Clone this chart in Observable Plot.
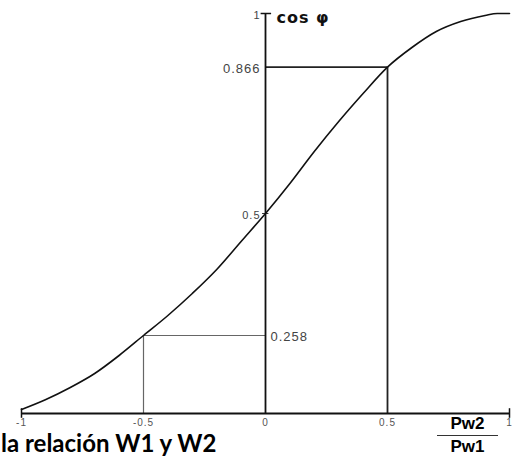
<!DOCTYPE html>
<html>
<head>
<meta charset="utf-8">
<script src="https://cdn.jsdelivr.net/npm/d3@7"></script>
<script src="https://cdn.jsdelivr.net/npm/@observablehq/plot@0.6"></script>
<style>
  html, body { margin: 0; padding: 0; background: #fff; }
  #wrap { position: relative; width: 514px; height: 457px; overflow: hidden; }
  #wrap svg { position: absolute; left: 0; top: 0; }
  .wide text { letter-spacing: 1px; }
  #caption { position: absolute; left: 0; top: 428px; width: 290px; height: 29px; background: #fff;
    font: bold 24px Lato, "Open Sans", sans-serif; line-height: 29px; color: #000; white-space: nowrap; padding-left: 1px; }
  #frac { position: absolute; left: 437px; top: 416px; width: 61px; text-align: center;
    font: bold 17px "Liberation Sans", Arial, sans-serif; line-height: 16px; color: #000; }
  #frac .bar { border-top: 1.5px solid #333; margin: 3px 0 3px 0; }
</style>
</head>
<body>
<div id="wrap"></div>
<script>
// Ratio Pw2/Pw1 and the cos φ
const ratio  = [-1, -0.9, -0.8, -0.7, -0.6, -0.5, -0.4, -0.3, -0.2, -0.1, 0, 0.1, 0.2, 0.3, 0.4, 0.5, 0.6, 0.7, 0.8, 0.9, 0.95, 1];
const cosPhi = [0.01, 0.035, 0.065, 0.10, 0.145, 0.195, 0.245, 0.30, 0.36, 0.43, 0.5, 0.575, 0.655, 0.73, 0.80, 0.866, 0.915, 0.955, 0.98, 0.995, 1.0, 1.0];

// Axis tick labels
const xTicks = [-1, -0.5, 0, 0.5, 1];
const xTickLabels = ["-1", "-0.5", "0", "0.5", "1"];
const yTicks = [1, 0.866, 0.5];
const yTickLabels = ["1", "0.866", "0.5"];

// Guide points
const highX = 0.5, highY = 0.866;
const lowX = -0.5, lowY = 0.195, lowLabel = "0.258";

const yAxisTitle = "cos φ";
const captionText = "la relación W1 y W2";

const plot = Plot.plot({
  width: 514,
  height: 457,
  marginLeft: 21,
  marginRight: 5,
  marginTop: 13,
  marginBottom: 44,
  x: {domain: [-1, 1], axis: null},
  y: {domain: [0, 1], axis: null},
  style: {background: "transparent", fontFamily: "'Liberation Sans', Arial, sans-serif"},
  marks: [
    // low guide lines (gray, thin)
    Plot.ruleY([lowY], {x1: lowX, x2: 0, stroke: "#666", strokeWidth: 1.2}),
    Plot.ruleX([lowX], {y1: 0, y2: lowY, stroke: "#666", strokeWidth: 1.2}),
    // high guide lines
    Plot.ruleY([highY], {x1: 0, x2: highX, stroke: "#222", strokeWidth: 1.8}),
    Plot.ruleX([highX], {y1: 0, y2: highY, stroke: "#222", strokeWidth: 1.8}),
    // axes
    Plot.ruleY([0], {x1: -1, x2: 1, stroke: "#111", strokeWidth: 1.8}),
    Plot.ruleX([0], {y1: 0, y2: 1, stroke: "#111", strokeWidth: 1.8}),
    Plot.ruleX([-1, 1], {y1: -0.012, y2: 0.012, stroke: "#111", strokeWidth: 1.5}),
    Plot.ruleY([1], {x1: -0.018, x2: 0.025, stroke: "#111", strokeWidth: 1.5}),
    Plot.ruleY([0.5], {x1: -0.012, x2: 0.014, stroke: "#333", strokeWidth: 1}),
    // curve
    Plot.line(ratio, {x: (d) => d, y: (d, i) => cosPhi[i], curve: "monotone-x", stroke: "#111", strokeWidth: 1.6}),
    // x tick labels
    Plot.text(xTicks, {x: (d) => d, y: 0, text: (d, i) => xTickLabels[i], dy: 9, fontSize: 10, fill: "#555", className: "wide"}),
    // y tick labels
    Plot.text(yTicks, {x: 0, y: (d) => d, text: (d, i) => yTickLabels[i], dx: -5, dy: 2,
      textAnchor: "end", fontSize: (d, i) => i === 1 ? 13 : 11, fill: "#444", className: "wide"}),
    Plot.text([lowLabel], {x: 0, y: lowY, text: (d) => d, dx: 5, dy: 1, textAnchor: "start", fontSize: 13, fill: "#444", className: "wide"}),
    // y axis title
    Plot.text([yAxisTitle], {x: 0, y: 1, text: (d) => d, dx: 11, dy: 4, textAnchor: "start",
      fontSize: 16, fontWeight: "bold", fill: "#111", fontFamily: "'DejaVu Sans', sans-serif", className: "wide"})
  ]
});

const wrap = document.getElementById("wrap");
wrap.appendChild(plot);

const cap = document.createElement("div");
cap.id = "caption";
cap.textContent = captionText;
wrap.appendChild(cap);

const frac = document.createElement("div");
frac.id = "frac";
frac.innerHTML = "<div>Pw2</div><div class='bar'></div><div>Pw1</div>";
wrap.appendChild(frac);
</script>
</body>
</html>
